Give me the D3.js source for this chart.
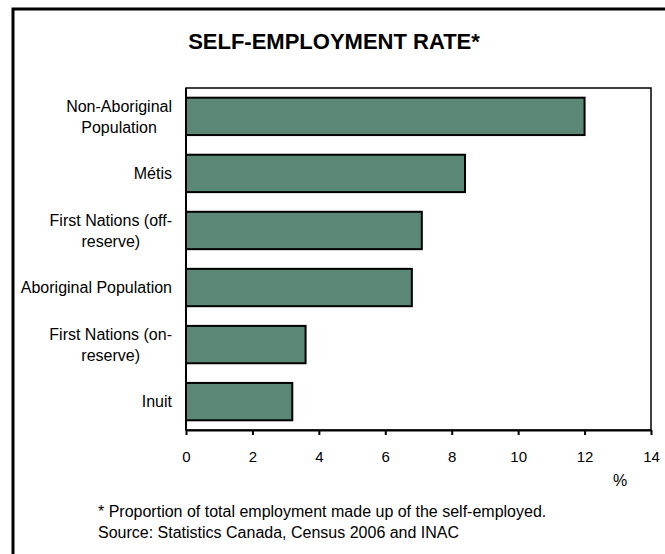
<!DOCTYPE html>
<html>
<head>
<meta charset="utf-8">
<script src="https://cdn.jsdelivr.net/npm/d3@7"></script>
<style>
  body { margin: 0; background: #fff; }
  text { font-family: "Liberation Sans", Arial, sans-serif; }
</style>
</head>
<body>
<div id="chart-container"></div>
<script>
const categories = [
  ["Non-Aboriginal", "Population"],
  ["Métis"],
  ["First Nations (off-", "reserve)"],
  ["Aboriginal Population"],
  ["First Nations (on-", "reserve)"],
  ["Inuit"]
];
const rates = [12.0, 8.4, 7.1, 6.8, 3.6, 3.2];
const xTicks = [0, 2, 4, 6, 8, 10, 12, 14];
const footnotes = [
  "* Proportion of total employment made up of the self-employed.",
  "Source: Statistics Canada, Census 2006 and INAC"
];

const W = 665, H = 554;
const margin = { top: 88, right: 14, bottom: 124, left: 186 };
const width = W - margin.left - margin.right;
const height = H - margin.top - margin.bottom;

const data = categories.map((c, i) => ({ label: c, key: c.join(" "), value: rates[i] }));

const svg = d3.select("#chart-container")
  .append("svg")
    .attr("width", W)
    .attr("height", H);

// outer frame (runs off the right and bottom edges)
svg.append("rect")
  .attr("x", 13)
  .attr("y", 9)
  .attr("width", 700)
  .attr("height", 600)
  .attr("fill", "none")
  .attr("stroke", "#000")
  .attr("stroke-width", 3);

svg.append("text")
  .attr("x", 334)
  .attr("y", 49)
  .attr("text-anchor", "middle")
  .style("font-size", "22px")
  .style("font-weight", "bold")
  .text("SELF-EMPLOYMENT RATE*");

const g = svg.append("g")
  .attr("transform", `translate(${margin.left},${margin.top})`);

const x = d3.scaleLinear()
  .domain([0, 14])
  .range([0, width]);

const y = d3.scaleBand()
  .domain(data.map(d => d.key))
  .range([0, height])
  .paddingInner(0.345)
  .paddingOuter(0.17);

// plot frame (top and right)
g.append("rect")
  .attr("width", width)
  .attr("height", height)
  .attr("fill", "none")
  .attr("stroke", "#000")
  .attr("stroke-width", 1.5);

g.selectAll("rect.bar")
  .data(data)
  .join("rect")
  .attr("class", "bar")
  .attr("x", x(0))
  .attr("y", d => y(d.key))
  .attr("width", d => x(d.value) - x(0))
  .attr("height", y.bandwidth())
  .attr("fill", "#5b8775")
  .attr("stroke", "#000")
  .attr("stroke-width", 2);

// x axis
const xAxis = g.append("g")
  .attr("transform", `translate(0,${height})`)
  .call(d3.axisBottom(x)
    .tickValues(xTicks)
    .tickSize(5)
    .tickSizeOuter(0)
    .tickPadding(15));
xAxis.select(".domain").attr("stroke-width", 2);
xAxis.selectAll(".tick line").attr("stroke-width", 2);
xAxis.selectAll(".tick text")
  .style("font-size", "15px")
  .style("font-family", "Liberation Sans, Arial, sans-serif")
  .attr("dy", 0)
  .attr("y", 31.5)
  .attr("fill", "#000");

// y axis line
g.append("line")
  .attr("x1", 0).attr("x2", 0)
  .attr("y1", 0).attr("y2", height)
  .attr("stroke", "#000")
  .attr("stroke-width", 2);

// category labels, lines centred in a right-aligned block
const labelRight = -14;
const lineH = 20.7;
data.forEach(d => {
  const lines = d.label;
  const t = g.append("text")
    .style("font-size", "16px")
    .attr("fill", "#000");
  const cy = y(d.key) + y.bandwidth() / 2;
  lines.forEach((ln, i) => {
    t.append("tspan")
      .attr("y", cy + (i - (lines.length - 1) / 2) * lineH + 5.8)
      .text(ln);
  });
  const spans = t.selectAll("tspan").nodes();
  const maxW = d3.max(spans, s => s.getComputedTextLength());
  const cx = labelRight - maxW / 2;
  spans.forEach(s => {
    d3.select(s).attr("x", cx).attr("text-anchor", "middle");
  });
});

svg.append("text")
  .attr("x", 620)
  .attr("y", 486)
  .attr("text-anchor", "middle")
  .style("font-size", "16px")
  .text("%");

svg.selectAll("text.foot")
  .data(footnotes)
  .join("text")
  .attr("class", "foot")
  .attr("x", 98)
  .attr("y", (d, i) => 516.7 + i * 21.7)
  .style("font-size", "16px")
  .text(d => d);
</script>
</body>
</html>
